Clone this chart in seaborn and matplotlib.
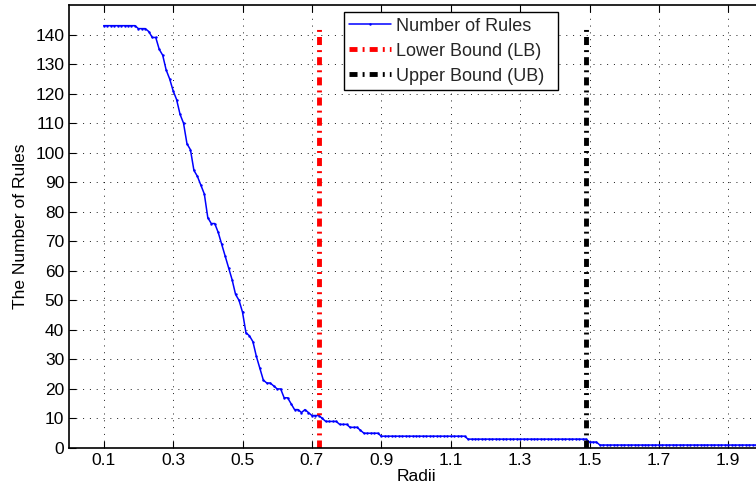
import matplotlib
matplotlib.use("Agg")
import matplotlib.pyplot as plt
import seaborn as sns
import pandas as pd

# ---------------- data ----------------
radii = [
    0.10, 0.11, 0.12, 0.13, 0.14, 0.15, 0.16, 0.17, 0.18, 0.19,
    0.20, 0.21, 0.22, 0.23, 0.24, 0.25, 0.26, 0.27, 0.28, 0.29,
    0.30, 0.31, 0.32, 0.33, 0.34, 0.35, 0.36, 0.37, 0.38, 0.39,
    0.40, 0.41, 0.42, 0.43, 0.44, 0.45, 0.46, 0.47, 0.48, 0.49,
    0.50, 0.51, 0.52, 0.53, 0.54, 0.55, 0.56, 0.57, 0.58, 0.59,
    0.60, 0.61, 0.62, 0.63, 0.64, 0.65, 0.66, 0.67, 0.68, 0.69,
    0.70, 0.71, 0.72, 0.73, 0.74, 0.75, 0.76, 0.77, 0.78, 0.79,
    0.80, 0.81, 0.82, 0.83, 0.84, 0.85, 0.86, 0.87, 0.88, 0.89,
    0.90, 0.91, 0.92, 0.93, 0.94, 0.95, 0.96, 0.97, 0.98, 0.99,
    1.00, 1.01, 1.02, 1.03, 1.04, 1.05, 1.06, 1.07, 1.08, 1.09,
    1.10, 1.11, 1.12, 1.13, 1.14, 1.15, 1.16, 1.17, 1.18, 1.19,
    1.20, 1.21, 1.22, 1.23, 1.24, 1.25, 1.26, 1.27, 1.28, 1.29,
    1.30, 1.31, 1.32, 1.33, 1.34, 1.35, 1.36, 1.37, 1.38, 1.39,
    1.40, 1.41, 1.42, 1.43, 1.44, 1.45, 1.46, 1.47, 1.48, 1.49,
    1.50, 1.51, 1.52, 1.53, 1.54, 1.55, 1.56, 1.57, 1.58, 1.59,
    1.60, 1.61, 1.62, 1.63, 1.64, 1.65, 1.66, 1.67, 1.68, 1.69,
    1.70, 1.71, 1.72, 1.73, 1.74, 1.75, 1.76, 1.77, 1.78, 1.79,
    1.80, 1.81, 1.82, 1.83, 1.84, 1.85, 1.86, 1.87, 1.88, 1.89,
    1.90, 1.91, 1.92, 1.93, 1.94, 1.95, 1.96, 1.97, 1.98, 1.99,
    2.00,
]
num_rules = [
    143, 143, 143, 143, 143, 143, 143, 143, 143, 143,
    142, 142, 142, 141, 139, 139, 135, 133, 128, 125,
    121, 118, 113, 110, 103, 101, 94, 92, 89, 86,
    78, 76, 76, 73, 69, 65, 61, 57, 52, 50,
    46, 39, 38, 36, 31, 27, 23, 22, 22, 21,
    20, 20, 17, 17, 15, 13, 13, 12, 13, 12,
    11, 11, 11, 10, 9, 9, 9, 9, 8, 8,
    8, 7, 7, 7, 6, 5, 5, 5, 5, 5,
    4, 4, 4, 4, 4, 4, 4, 4, 4, 4,
    4, 4, 4, 4, 4, 4, 4, 4, 4, 4,
    4, 4, 4, 4, 4, 3, 3, 3, 3, 3,
    3, 3, 3, 3, 3, 3, 3, 3, 3, 3,
    3, 3, 3, 3, 3, 3, 3, 3, 3, 3,
    3, 3, 3, 3, 3, 3, 3, 3, 3, 3,
    2, 2, 2, 1, 1, 1, 1, 1, 1, 1,
    1, 1, 1, 1, 1, 1, 1, 1, 1, 1,
    1, 1, 1, 1, 1, 1, 1, 1, 1, 1,
    1, 1, 1, 1, 1, 1, 1, 1, 1, 1,
    1, 1, 1, 1, 1, 1, 1, 1, 1, 1,
    1,
]
lower_bound = 0.72
upper_bound = 1.49
bound_span = [0, 143]
x_ticks = [0.1, 0.3, 0.5, 0.7, 0.9, 1.1, 1.3, 1.5, 1.7, 1.9]
y_ticks = [0, 10, 20, 30, 40, 50, 60, 70, 80, 90, 100, 110, 120, 130, 140]
series_labels = ["Number of Rules", "Lower Bound (LB)", "Upper Bound (UB)"]

# ---------------- style ----------------
FS = 12.5
sns.set_theme(style="white")
plt.rcParams["font.family"] = ["Liberation Sans", "DejaVu Sans"]
plt.rcParams["font.size"] = FS

fig = plt.figure(figsize=(7.56, 4.93), dpi=100)
ax = fig.add_axes([69 / 756, 45 / 493, 694 / 756, 443 / 493])

df = pd.DataFrame({"Radii": radii, "Rules": num_rules})
sns.lineplot(data=df, x="Radii", y="Rules", ax=ax, color=(0, 0, 1),
             linewidth=1.1, marker=".", markersize=3.5, markeredgewidth=0,
             estimator=None, label=series_labels[0])

dash = (0, (1.65, 1.05, 0.4, 1.05))
sns.lineplot(x=[lower_bound, lower_bound], y=bound_span, ax=ax, color=(1, 0, 0),
             linewidth=3.5, linestyle=dash, estimator=None, sort=False,
             errorbar=None, label=series_labels[1])
sns.lineplot(x=[upper_bound, upper_bound], y=bound_span, ax=ax, color="black",
             linewidth=3.5, linestyle=dash, estimator=None, sort=False,
             errorbar=None, label=series_labels[2])

ax.set_xlim(0, 2.0)
ax.set_ylim(0, 150)
ax.set_xticks(x_ticks)
ax.set_xticklabels([f"{t:.1f}" for t in x_ticks])
ax.set_yticks(y_ticks)
ax.tick_params(axis="both", direction="in", length=5, width=0.8, color="black",
               labelsize=FS, labelcolor="black", top=True, right=True,
               bottom=True, left=True)
ax.tick_params(axis="x", pad=3.5)
ax.tick_params(axis="y", pad=3.5)

ax.grid(True, color="black", linewidth=0.7, linestyle=(0, (1, 6)), alpha=0.9)
for s in ax.spines.values():
    s.set_color("black")
    s.set_linewidth(1.2)

ax.set_xlabel("Radii", fontsize=FS, color="black", labelpad=0.5)
ax.set_ylabel("The Number of Rules", fontsize=FS, color="black", labelpad=5)

leg = ax.legend(loc="upper left", bbox_to_anchor=(0.3957, 0.0, 0.3084, 0.984),
                mode="expand", borderaxespad=0, fancybox=False, framealpha=1,
                edgecolor="black", fontsize=13, handlelength=2.3,
                labelspacing=0.45, borderpad=0.3, handletextpad=0.3)
leg.get_frame().set_linewidth(1.0)

fig.savefig("out.png", dpi=100)
